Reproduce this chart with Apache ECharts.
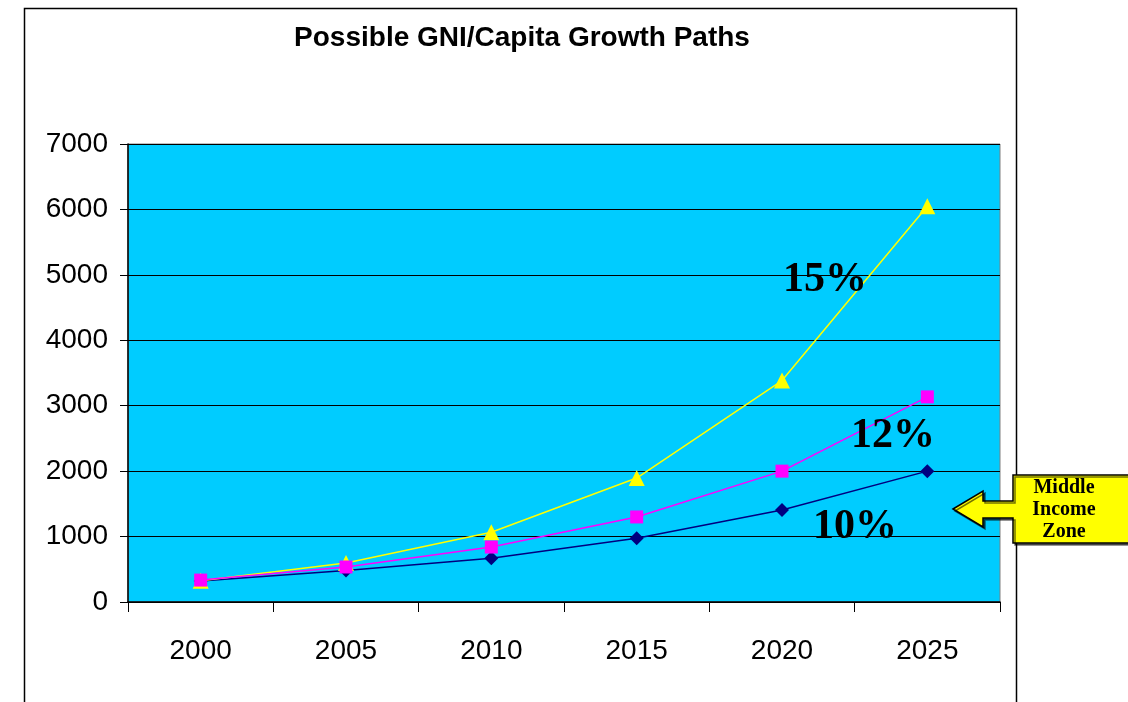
<!DOCTYPE html>
<html>
<head>
<meta charset="utf-8">
<style>
  html, body { margin: 0; padding: 0; background: #ffffff; }
  #chart { width: 1128px; height: 702px; }
</style>
<script src="https://cdn.jsdelivr.net/npm/echarts@6/dist/echarts.min.js"></script>
</head>
<body>
<div id="chart"></div>
<script>
// Years on the category axis
const years = ['2000', '2005', '2010', '2015', '2020', '2025'];

// GNI per capita under three annual growth rates
const growth10 = [320, 480, 670, 975, 1405, 2000];
const growth12 = [335, 535, 840, 1300, 2000, 3135];
const growth15 = [325, 595, 1065, 1895, 3385, 6050];

// Value axis range and step
const yMin = 0;
const yMax = 7000;
const yStep = 1000;

// Text written on the chart
const chartTitle = 'Possible GNI/Capita Growth Paths';
const rateLabels = ['15%', '12%', '10%'];
const calloutText = 'Middle\nIncome\nZone';

const chart = echarts.init(document.getElementById('chart'), null, { renderer: 'canvas' });

const sansFont = '"Liberation Sans", Arial, sans-serif';
const serifFont = '"Liberation Serif", "Times New Roman", serif';

function lineSeries(name, data, color, symbol, size, z) {
  return {
    name: name,
    type: 'line',
    data: data,
    symbol: symbol,
    symbolSize: size,
    showAllSymbol: true,
    z: z,
    lineStyle: { color: color, width: 1.5 },
    itemStyle: { color: color, borderWidth: 0 },
    emphasis: { disabled: true },
    animation: false
  };
}

const option = {
  backgroundColor: '#ffffff',
  animation: false,
  grid: {
    left: 128,
    right: 128,
    top: 144,
    bottom: 100,
    show: true,
    backgroundColor: '#00CCFF',
    borderColor: '#808080',
    borderWidth: 1
  },
  xAxis: {
    type: 'category',
    data: years,
    boundaryGap: true,
    axisLine: { show: true, lineStyle: { color: '#000000', width: 1.5 } },
    axisTick: { show: true, alignWithLabel: false, length: 10, lineStyle: { color: '#000000', width: 1 } },
    axisLabel: {
      color: '#000000',
      fontFamily: sansFont,
      fontSize: 28,
      margin: 35
    },
    splitLine: { show: false }
  },
  yAxis: {
    type: 'value',
    min: yMin,
    max: yMax,
    interval: yStep,
    axisLine: { show: true, lineStyle: { color: '#000000', width: 1.5 } },
    axisTick: { show: true, length: 8, lineStyle: { color: '#000000', width: 1 } },
    axisLabel: {
      color: '#000000',
      fontFamily: sansFont,
      fontSize: 28,
      margin: 20,
      formatter: function (v) { return String(v); }
    },
    splitLine: { show: true, lineStyle: { color: '#000000', width: 1 } }
  },
  series: [
    lineSeries('10%', growth10, '#000080', 'diamond', 14, 2),
    lineSeries('15%', growth15, '#FFFF00', 'triangle', 16, 3),
    lineSeries('12%', growth12, '#FF00FF', 'rect', 13, 4)
  ],
  graphic: [
    // outer frame around the chart area
    {
      type: 'rect',
      shape: { x: 24.5, y: 8.5, width: 992, height: 720 },
      style: { fill: null, stroke: '#000000', lineWidth: 1.5 },
      z: 0,
      silent: true
    },
    {
      type: 'text',
      x: 522,
      y: 38,
      style: {
        text: chartTitle,
        font: 'bold 28px ' + sansFont,
        fill: '#000000',
        textAlign: 'center',
        textVerticalAlign: 'middle'
      },
      z: 10
    },
    {
      type: 'text',
      x: 825,
      y: 280,
      style: { text: rateLabels[0], font: 'bold 42px ' + serifFont, fill: '#000000', textAlign: 'center', textVerticalAlign: 'middle' },
      z: 10
    },
    {
      type: 'text',
      x: 893,
      y: 436,
      style: { text: rateLabels[1], font: 'bold 42px ' + serifFont, fill: '#000000', textAlign: 'center', textVerticalAlign: 'middle' },
      z: 10
    },
    {
      type: 'text',
      x: 855,
      y: 527,
      style: { text: rateLabels[2], font: 'bold 42px ' + serifFont, fill: '#000000', textAlign: 'center', textVerticalAlign: 'middle' },
      z: 10
    },
    // arrow-shaped callout pointing into the chart
    {
      type: 'polygon',
      shape: {
        points: [
          [953, 509], [983, 491], [983, 501], [1013, 501], [1013, 475],
          [1140, 475], [1140, 543], [1013, 543], [1013, 518], [983, 518], [983, 527]
        ]
      },
      style: {
        fill: '#FFFF00',
        stroke: '#000000',
        lineWidth: 1.5,
        shadowColor: 'rgba(0,0,0,0.55)',
        shadowOffsetX: 2,
        shadowOffsetY: 2,
        shadowBlur: 0
      },
      z: 20
    },
    {
      type: 'text',
      x: 1064,
      y: 510,
      style: {
        text: calloutText,
        font: 'bold 20px ' + serifFont,
        lineHeight: 22,
        fill: '#000000',
        textAlign: 'center',
        textVerticalAlign: 'middle'
      },
      z: 21
    }
  ]
};

chart.setOption(option);
</script>
</body>
</html>
